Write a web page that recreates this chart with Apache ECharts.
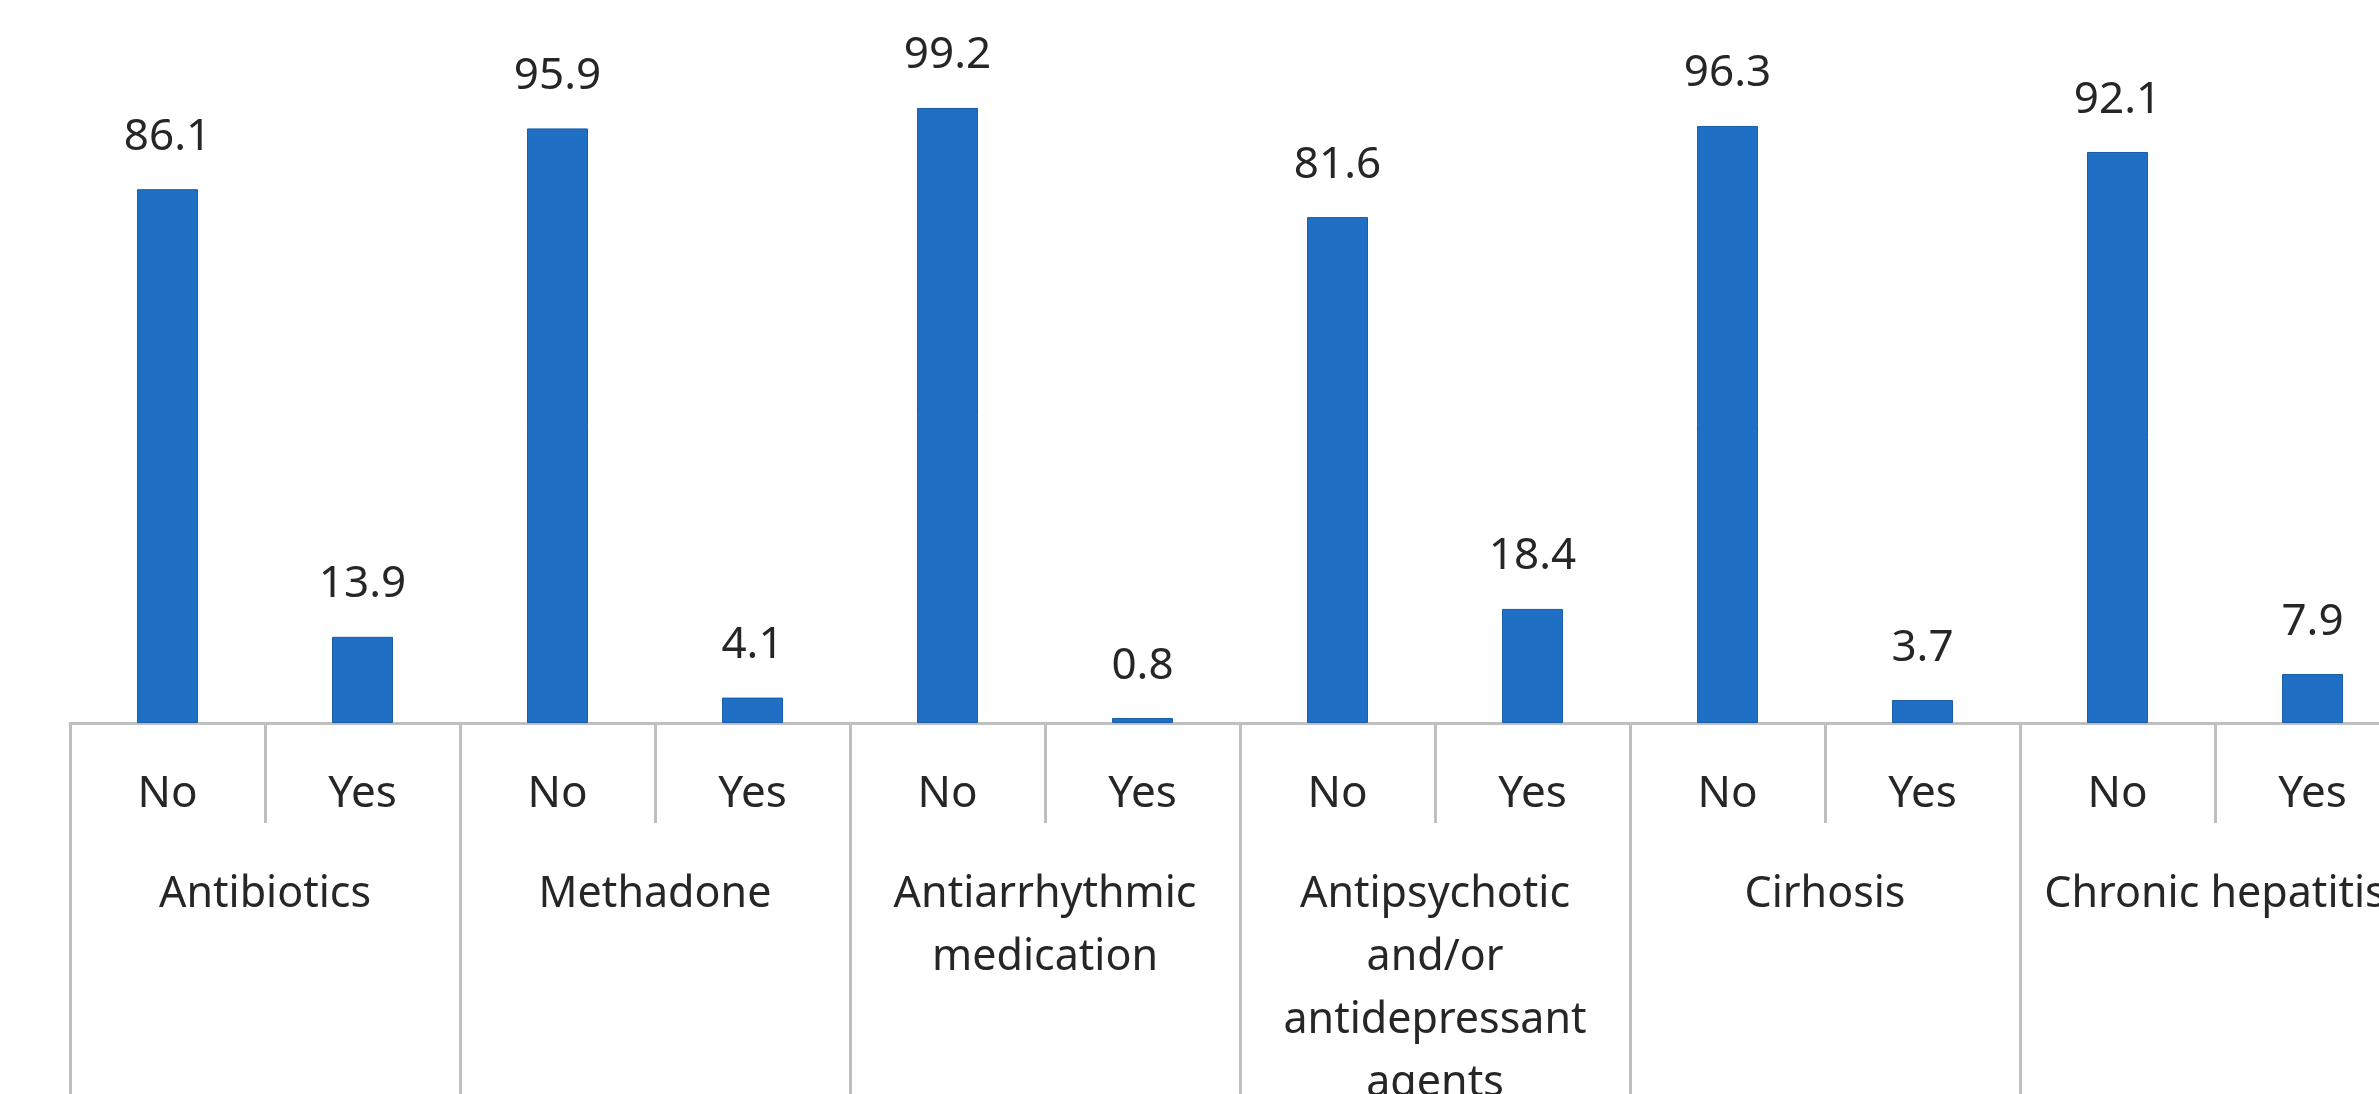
<!DOCTYPE html>
<html>
<head>
<meta charset="utf-8">
<script src="https://cdn.jsdelivr.net/npm/echarts@6/dist/echarts.min.js"></script>
<style>
    html, body { margin: 0; padding: 0; background: #fff; }
    #chart { width: 2379px; height: 1094px; }
</style>
</head>
<body>
<div id="chart"></div>
<script>
// answer under each medication / condition
var answers = ['No', 'Yes', 'No', 'Yes', 'No', 'Yes', 'No', 'Yes', 'No', 'Yes', 'No', 'Yes'];
var groups = [
    'Antibiotics',
    'Methadone',
    'Antiarrhythmic\nmedication',
    'Antipsychotic\nand/or\nantidepressant\nagents',
    'Cirhosis',
    'Chronic hepatitis'
];
var percents = [86.1, 13.9, 95.9, 4.1, 99.2, 0.8, 81.6, 18.4, 96.3, 3.7, 92.1, 7.9];

var font = 'Noto Sans';
var textColor = '#262626';
var lineColor = '#bfbfbf';

var chart = echarts.init(document.getElementById('chart'));
chart.setOption({
    animation: false,
    grid: {
        left: 70,
        top: 103,
        width: 2340,
        bottom: 371,
        outerBoundsMode: 'none',
        containLabel: false
    },
    xAxis: [{
        type: 'category',
        data: answers,
        position: 'bottom',
        axisLine: {
            show: true,
            lineStyle: { color: lineColor, width: 3 }
        },
        axisTick: {
            show: true,
            interval: 0,
            alignWithLabel: false,
            length: 100,
            lineStyle: { color: lineColor, width: 3 }
        },
        axisLabel: {
            interval: 0,
            margin: 49,
            fontFamily: font,
            fontSize: 44,
            color: textColor
        }
    }, {
        type: 'category',
        data: groups,
        position: 'bottom',
        axisLine: { show: false },
        axisTick: {
            show: true,
            interval: 0,
            alignWithLabel: false,
            length: 400,
            lineStyle: { color: lineColor, width: 3 }
        },
        axisLabel: {
            interval: 0,
            margin: 140,
            fontFamily: font,
            fontSize: 43,
            lineHeight: 63,
            color: textColor
        }
    }],
    yAxis: {
        type: 'value',
        min: 0,
        max: 100,
        show: false
    },
    series: [{
        type: 'bar',
        xAxisIndex: 0,
        data: percents,
        barWidth: 61,
        itemStyle: {
            color: '#1f6fc4',
            borderColor: '#1a5ea8',
            borderWidth: 1
        },
        label: {
            show: true,
            position: 'top',
            distance: 30,
            fontFamily: font,
            fontSize: 44,
            color: textColor
        }
    }]
});
</script>
</body>
</html>
